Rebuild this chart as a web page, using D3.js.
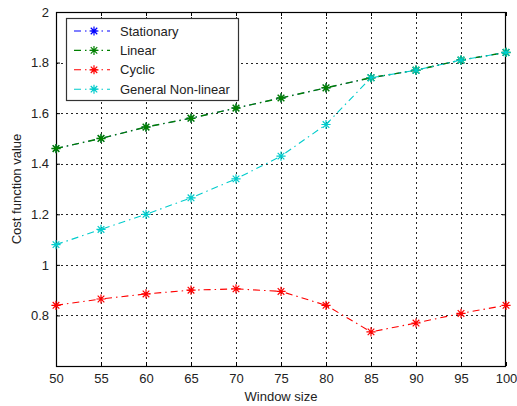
<!DOCTYPE html>
<html>
<head>
<meta charset="utf-8">
<script src="https://cdn.jsdelivr.net/npm/d3@7/dist/d3.min.js"></script>
<style>
  html, body { margin: 0; padding: 0; background: #fff; }
  svg { display: block; font-family: "Liberation Sans", Arial, sans-serif; }
</style>
</head>
<body>
<svg id="chart" width="517" height="406"></svg>
<script>
// Window sizes on the x axis
const windowSizes = [50, 55, 60, 65, 70, 75, 80, 85, 90, 95, 100];

// Cost function value for each model
const stationary = [1.46, 1.50, 1.545, 1.58, 1.62, 1.66, 1.70, 1.74, 1.77, 1.81, 1.84];
const linear     = [1.46, 1.50, 1.545, 1.58, 1.62, 1.66, 1.70, 1.74, 1.77, 1.81, 1.84];
const cyclic     = [0.84, 0.865, 0.885, 0.90, 0.905, 0.895, 0.84, 0.735, 0.77, 0.808, 0.84];
const generalNonLinear = [1.08, 1.14, 1.20, 1.265, 1.34, 1.43, 1.555, 1.74, 1.77, 1.81, 1.84];

const seriesNames = ["Stationary", "Linear", "Cyclic", "General Non-linear"];
const seriesColors = ["#0000ff", "#008000", "#ff0000", "#00cccc"];
const seriesValues = [stationary, linear, cyclic, generalNonLinear];

const xTicks = windowSizes;
const yTicks = [0.8, 1, 1.2, 1.4, 1.6, 1.8, 2];

const svg = d3.select("#chart");
const pLeft = 56, pRight = 506, pTop = 12, pBottom = 366;
const fontSize = "13px";

const x = d3.scaleLinear().domain([50, 100]).range([pLeft, pRight]);
const y = d3.scaleLinear().domain([0.6, 2]).range([pBottom, pTop]);

// Grid lines
const grid = svg.append("g").attr("stroke", "#000").attr("stroke-width", 1)
  .attr("stroke-dasharray", "2,3").attr("opacity", 0.85);
xTicks.slice(1, -1).forEach(v => {
  grid.append("line").attr("x1", Math.round(x(v)) + 0.5).attr("x2", Math.round(x(v)) + 0.5)
    .attr("y1", pTop).attr("y2", pBottom);
});
yTicks.slice(0, -1).forEach(v => {
  grid.append("line").attr("y1", Math.round(y(v)) + 0.5).attr("y2", Math.round(y(v)) + 0.5)
    .attr("x1", pLeft).attr("x2", pRight);
});

// Axes with inward ticks on all four sides
const tickLen = 4;
const axisBottom = d3.axisBottom(x).tickValues(xTicks).tickSizeInner(-tickLen).tickSizeOuter(0).tickPadding(8);
const axisTop = d3.axisTop(x).tickValues(xTicks).tickSizeInner(-tickLen).tickSizeOuter(0).tickFormat("");
const axisLeft = d3.axisLeft(y).tickValues(yTicks).tickSizeInner(-tickLen).tickSizeOuter(0).tickPadding(7)
  .tickFormat(d => d3.format("")(d));
const axisRight = d3.axisRight(y).tickValues(yTicks).tickSizeInner(-tickLen).tickSizeOuter(0).tickFormat("");

function styleAxis(g) {
  g.select(".domain").remove();
  g.selectAll("line").attr("stroke", "#000");
  g.selectAll("text").attr("fill", "#222").style("font-size", fontSize)
    .style("font-family", "'Liberation Sans', Arial, sans-serif");
}
svg.append("g").attr("transform", `translate(0,${pBottom})`).call(axisBottom).call(styleAxis);
svg.append("g").attr("transform", `translate(0,${pTop})`).call(axisTop).call(styleAxis);
svg.append("g").attr("transform", `translate(${pLeft},0)`).call(axisLeft).call(styleAxis);
svg.append("g").attr("transform", `translate(${pRight},0)`).call(axisRight).call(styleAxis);

// Plot box
svg.append("rect").attr("x", pLeft + 0.5).attr("y", pTop + 0.5)
  .attr("width", pRight - pLeft - 1).attr("height", pBottom - pTop)
  .attr("fill", "none").attr("stroke", "#000").attr("stroke-width", 1.2);

// Asterisk marker
function star(g, cx, cy, color, r, w) {
  const d = r * 0.72;
  const p = `M${cx - r},${cy}L${cx + r},${cy}M${cx},${cy - r}L${cx},${cy + r}` +
            `M${cx - d},${cy - d}L${cx + d},${cy + d}M${cx - d},${cy + d}L${cx + d},${cy - d}`;
  g.append("path").attr("d", p).attr("stroke", color).attr("stroke-width", w).attr("fill", "none");
}

// Stationary is drawn first and slightly thinner so the series on top fully covers it
const widths = [0.8, 1.4, 1.1, 1.1];
const line = d3.line().x((d, i) => x(windowSizes[i])).y(d => y(d));
const plot = svg.append("g");
seriesValues.forEach((vals, k) => {
  plot.append("path").datum(vals).attr("d", line)
    .attr("fill", "none").attr("stroke", seriesColors[k]).attr("stroke-width", widths[k])
    .attr("stroke-dasharray", "7,4,1.5,4");
  const mg = plot.append("g");
  vals.forEach((v, i) => star(mg, x(windowSizes[i]), y(v), seriesColors[k], k === 0 ? 4.2 : 4.6, widths[k] + 0.1));
});

// Legend
const lg = svg.append("g");
lg.append("rect").attr("x", 66.5).attr("y", 18.5).attr("width", 172).attr("height", 82)
  .attr("fill", "#fff").attr("stroke", "#333").attr("stroke-width", 1.2);
seriesNames.forEach((name, k) => {
  const yy = 31 + k * 19.4;
  lg.append("line").attr("x1", 74).attr("x2", 110).attr("y1", yy).attr("y2", yy)
    .attr("stroke", seriesColors[k]).attr("stroke-width", 1.1)
    .attr("stroke-dasharray", "7,4,1.5,4");
  star(lg, 94, yy, seriesColors[k], 4.5, 1.2);
  lg.append("text").attr("x", 120).attr("y", yy + 4.5).text(name)
    .attr("fill", "#222").style("font-size", fontSize);
});

// Axis titles
svg.append("text").attr("x", (pLeft + pRight) / 2).attr("y", 401).attr("text-anchor", "middle")
  .attr("fill", "#222").style("font-size", fontSize).text("Window size");
svg.append("text").attr("transform", `translate(21,${(pTop + pBottom) / 2}) rotate(-90)`)
  .attr("text-anchor", "middle").attr("fill", "#222").style("font-size", fontSize)
  .text("Cost function value");
</script>
</body>
</html>
